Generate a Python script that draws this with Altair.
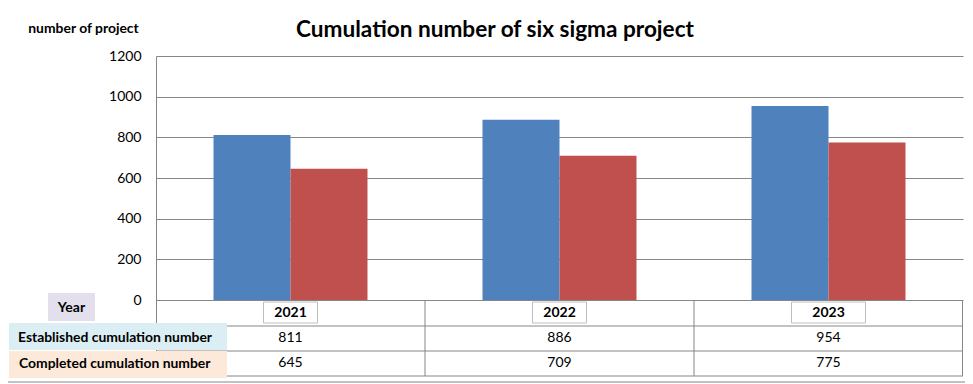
import altair as alt
import pandas as pd

years = ["2021", "2022", "2023"]
established = [811, 886, 954]
completed = [645, 709, 775]
series = ["Established cumulation number", "Completed cumulation number"]
y_ticks = [0, 200, 400, 600, 800, 1000, 1200]

FONT = "Lato"
GRID = "#868686"

rows = []
for i, yr in enumerate(years):
    rows.append({"year": yr, "series": series[0], "value": established[i]})
    rows.append({"year": yr, "series": series[1], "value": completed[i]})
df = pd.DataFrame(rows)
tbl = pd.DataFrame({"year": years, "est": established, "comp": completed})
one = pd.DataFrame({"k": [0]})

W, H = 807, 244

xscale = alt.Scale(domain=years, paddingInner=0, paddingOuter=0)

bars = alt.Chart(df).mark_bar().encode(
    x=alt.X("year:N", scale=xscale, axis=None, sort=years),
    xOffset=alt.XOffset("series:N", sort=series,
                        scale=alt.Scale(domain=series, paddingInner=0, paddingOuter=0.7468)),
    y=alt.Y("value:Q", scale=alt.Scale(domain=[0, 1200], nice=False),
            axis=alt.Axis(values=y_ticks, format="d", grid=True, gridColor=GRID, gridWidth=1,
                          domain=True, domainColor=GRID, ticks=False, labelPadding=15,
                          labelFont=FONT, labelFontSize=14, labelColor="#000000",
                          title=None)),
    color=alt.Color("series:N", sort=series,
                    scale=alt.Scale(domain=series, range=["#4f81bd", "#c0504d"]),
                    legend=None),
)

# table grid lines
hlines = [
    alt.Chart(one).mark_rule(color=GRID, strokeWidth=1).encode(
        x=alt.value(0), x2=alt.value(W), y=alt.value(yy))
    for yy in [270, 295, 320]
]
vlines = [
    alt.Chart(one).mark_rule(color=GRID, strokeWidth=1).encode(
        x=alt.value(xx), y=alt.value(244), y2=alt.value(320))
    for xx in [0.5, 269, 538, W - 0.5]
]

year_boxes = alt.Chart(tbl).mark_bar(width=54, fill="white", stroke="#bfbfbf",
                                     strokeWidth=1).encode(
    x=alt.X("year:N", scale=xscale, sort=years),
    y=alt.value(246), y2=alt.value(267)).transform_filter(alt.datum.year != "2023")
year_box_last = alt.Chart(tbl).mark_bar(width=74, fill="white", stroke="#bfbfbf",
                                        strokeWidth=1).encode(
    x=alt.X("year:N", scale=xscale, sort=years),
    y=alt.value(246), y2=alt.value(267)).transform_filter(alt.datum.year == "2023")
year_text = alt.Chart(tbl).mark_text(font=FONT, fontSize=14, fontWeight="bold",
                                     color="black", baseline="middle").encode(
    x=alt.X("year:N", scale=xscale, sort=years), y=alt.value(257), text="year:N")
est_text = alt.Chart(tbl).mark_text(font=FONT, fontSize=14, color="black",
                                    baseline="middle").encode(
    x=alt.X("year:N", scale=xscale, sort=years), y=alt.value(282), text="est:Q")
comp_text = alt.Chart(tbl).mark_text(font=FONT, fontSize=14, color="black",
                                     baseline="middle").encode(
    x=alt.X("year:N", scale=xscale, sort=years), y=alt.value(307), text="comp:Q")

# row header boxes
def box(x1, x2, y1, y2, fill):
    return alt.Chart(one).mark_rect(fill=fill).encode(
        x=alt.value(x1), x2=alt.value(x2), y=alt.value(y1), y2=alt.value(y2))

def label(txt, x, y, align="left", size=13.9):
    return alt.Chart(one).mark_text(text=txt, font=FONT, fontSize=size,
                                    fontWeight="bold", color="black",
                                    align=align, baseline="middle").encode(
        x=alt.value(x), y=alt.value(y))

boxes = [
    box(-108, -61, 237, 265, "#e4dfec"),
    box(-147, 71, 267, 294, "#daeef3"),
    box(-147, 71, 295, 322, "#fde9d9"),
]
labels = [
    label("Year", -84.5, 252, align="center", size=14),
    label("Established cumulation number", -138, 282),
    label("Completed cumulation number", -137, 308),
    label("number of project", -72.5, -27, align="center", size=13.9),
    label("Cumulation number of six sigma project", 339, -26, align="center", size=22.6),
]

border = alt.Chart(one).mark_rule(color=GRID, strokeWidth=1).encode(
    x=alt.value(-148), x2=alt.value(W + 2), y=alt.value(326))

chart = alt.layer(
    bars, *hlines, *vlines, year_boxes, year_box_last, year_text, est_text, comp_text,
    *boxes, *labels, border
).properties(
    width=W, height=H,
    autosize=alt.AutoSizeParams(type="none"),
    padding={"left": 148, "top": 48, "right": 2, "bottom": 84},
    background="white",
).configure_view(stroke=None)

chart.save("out.html", embed_options={"renderer": "svg", "actions": False})
